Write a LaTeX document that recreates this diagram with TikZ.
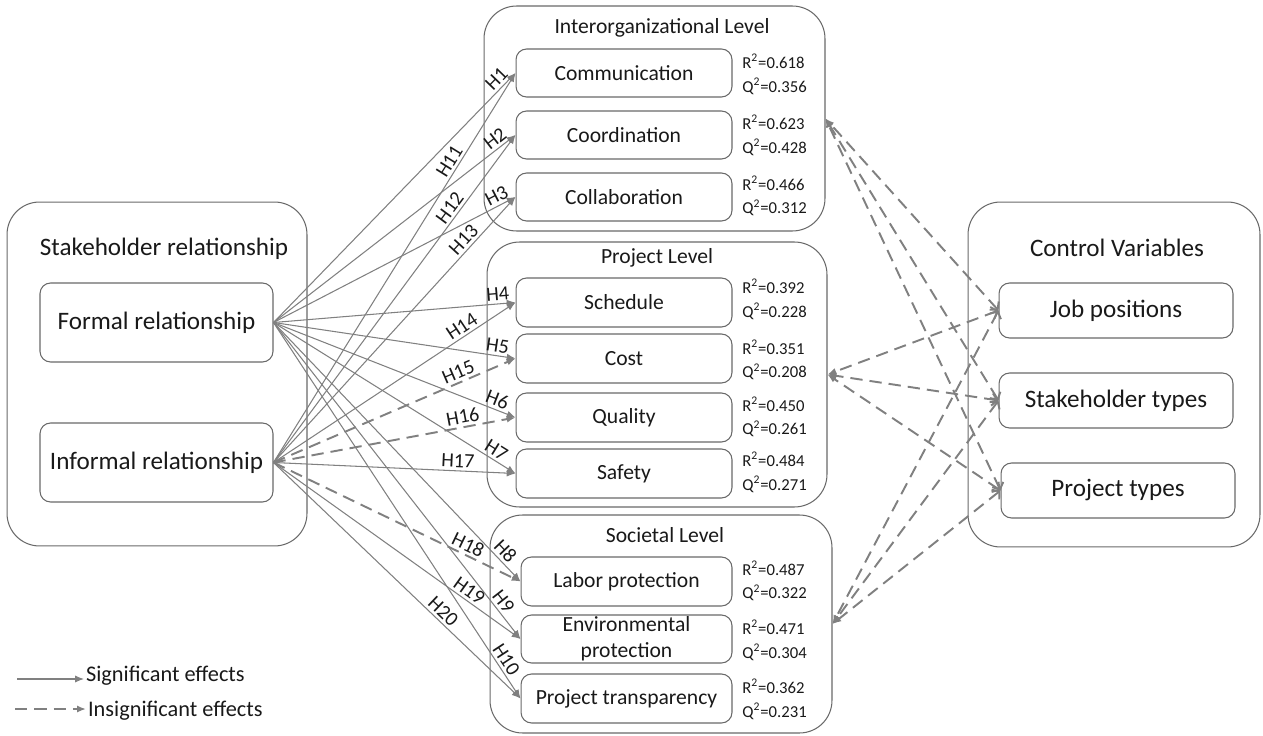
\documentclass[tikz,border=0pt]{standalone}
\usepackage{fontspec}
\setmainfont{Carlito}
\usetikzlibrary{arrows.meta}

\definecolor{linegray}{RGB}{128,128,128}
\definecolor{boxgray}{RGB}{105,105,105}
\definecolor{txtgray}{RGB}{25,25,25}

\tikzset{
  grp/.style={draw=boxgray, line width=0.6pt, rounded corners=0.65cm},
  box/.style={draw=boxgray, line width=0.6pt, rounded corners=6pt, inner ysep=0pt,
    text=txtgray, align=center, font=\fontsize{12.3}{15}\selectfont},
  bigbox/.style={box, font=\fontsize{14.3}{17}\selectfont},
  title/.style={text=txtgray, font=\fontsize{12.3}{15}\selectfont},
  bigtitle/.style={title, font=\fontsize{14.3}{17}\selectfont},
  stat/.style={anchor=west, align=left, inner sep=0pt, text=txtgray,
    font=\fontsize{9.5}{13.6}\selectfont},
  hlab/.style={sloped, above, inner sep=1.5pt, text=txtgray,
    font=\fontsize{11.5}{12}\selectfont},
  sig/.style={draw=linegray, line width=0.6pt, -{Latex[length=5pt,width=4pt]}},
  insig/.style={sig, line width=1.1pt, dash pattern=on 7pt off 4pt},
  ctrl/.style={draw=linegray, line width=1.1pt, dash pattern=on 7pt off 4pt,
    {Straight Barb[length=3pt,width=7pt]}-{Latex[length=5pt,width=4pt]}}
}

\begin{document}
\begin{tikzpicture}[x=0.02cm, y=-0.02cm]
  \useasboundingbox (0,0) rectangle (1263,736);

  % Stakeholder relationship
  \node[grp, minimum width=6cm, minimum height=6.88cm] (stake) at (157,374) {};
  \node[bigtitle] (stakeT) at (164,249) {Stakeholder relationship};
  \node[bigbox, minimum width=4.66cm, minimum height=1.58cm] (formal) at (156.5,322.5) {Formal relationship};
  \node[bigbox, minimum width=4.66cm, minimum height=1.58cm] (informal) at (156.5,462.5) {Informal relationship};

  % Interorganizational level
  \node[grp, minimum width=6.82cm, minimum height=4.5cm] (interorg) at (654.5,118.5) {};
  \node[title] (interorgT) at (662,28) {Interorganizational Level};
  \node[box, minimum width=4.32cm, minimum height=0.96cm] (comm) at (624,73) {Communication};
  \node[box, minimum width=4.32cm, minimum height=0.96cm] (coord) at (624,135) {Coordination};
  \node[box, minimum width=4.32cm, minimum height=0.96cm] (collab) at (624,197) {Collaboration};
  \node[stat] (commS) at (742,74.5) {R\textsuperscript{2}=0.618\\Q\textsuperscript{2}=0.356};
  \node[stat] (coordS) at (742,135.5) {R\textsuperscript{2}=0.623\\Q\textsuperscript{2}=0.428};
  \node[stat] (collabS) at (742,196) {R\textsuperscript{2}=0.466\\Q\textsuperscript{2}=0.312};

  % Project level
  \node[grp, minimum width=6.8cm, minimum height=5.3cm] (projlvl) at (657,374.5) {};
  \node[title] (projlvlT) at (657,258) {Project Level};
  \node[box, minimum width=4.32cm, minimum height=0.98cm] (sched) at (624,302.5) {Schedule};
  \node[box, minimum width=4.32cm, minimum height=0.98cm] (cost) at (624,358.5) {Cost};
  \node[box, minimum width=4.32cm, minimum height=0.98cm] (quality) at (624,417.5) {Quality};
  \node[box, minimum width=4.32cm, minimum height=0.98cm] (safety) at (624,473.5) {Safety};
  \node[stat] (schedS) at (742,299.5) {R\textsuperscript{2}=0.392\\Q\textsuperscript{2}=0.228};
  \node[stat] (costS) at (742,360) {R\textsuperscript{2}=0.351\\Q\textsuperscript{2}=0.208};
  \node[stat] (qualityS) at (742,417) {R\textsuperscript{2}=0.450\\Q\textsuperscript{2}=0.261};
  \node[stat] (safetyS) at (742,472.5) {R\textsuperscript{2}=0.484\\Q\textsuperscript{2}=0.271};

  % Societal level
  \node[grp, minimum width=6.84cm, minimum height=4.36cm] (soclvl) at (661,624) {};
  \node[title] (soclvlT) at (665,535) {Societal Level};
  \node[box, minimum width=4.22cm, minimum height=0.98cm] (labor) at (626.5,581.5) {Labor protection};
  \node[box, minimum width=4.22cm, minimum height=0.96cm] (env) at (626.5,639)
    {\fontsize{12.3}{15.4}\selectfont Environmental\\protection};
  \node[box, minimum width=4.22cm, minimum height=0.98cm] (ptrans) at (626.5,698.5) {Project transparency};
  \node[stat] (laborS) at (742,581) {R\textsuperscript{2}=0.487\\Q\textsuperscript{2}=0.322};
  \node[stat] (envS) at (742,640.5) {R\textsuperscript{2}=0.471\\Q\textsuperscript{2}=0.304};
  \node[stat] (ptransS) at (742,699) {R\textsuperscript{2}=0.362\\Q\textsuperscript{2}=0.231};

  % Control variables
  \node[grp, minimum width=5.84cm, minimum height=6.9cm] (control) at (1114,374.5) {};
  \node[bigtitle] (controlT) at (1117,248) {Control Variables};
  \node[bigbox, minimum width=4.68cm, minimum height=1.1cm] (job) at (1116,310.5) {Job positions};
  \node[bigbox, minimum width=4.68cm, minimum height=1.1cm] (stype) at (1116,400.5) {Stakeholder types};
  \node[bigbox, minimum width=4.68cm, minimum height=1.1cm] (ptype) at (1118,490.5) {Project types};

  % Hypotheses from formal relationship
  \foreach \t/\h/\p in {comm/H1/0.95, coord/H2/0.94, collab/H3/0.94, sched/H4/0.93,
                        cost/H5/0.92, quality/H6/0.91, safety/H7/0.9, labor/H8/0.91,
                        env/H9/0.9, ptrans/H10/0.91}{
    \draw[sig] (formal.east) -- node[hlab, pos=\p] {\h} (\t.west);
  }
  % Hypotheses from informal relationship
  \foreach \t/\h/\p/\s in {comm/H11/0.76/sig, coord/H12/0.76/sig, collab/H13/0.815/sig,
                           sched/H14/0.8/sig, cost/H15/0.78/insig, quality/H16/0.79/insig,
                           safety/H17/0.76/sig, labor/H18/0.77/insig, env/H19/0.77/sig,
                           ptrans/H20/0.66/sig}{
    \draw[\s] (informal.east) -- node[hlab, pos=\p] {\h} (\t.west);
  }

  % Control variables to the levels
  \foreach \c in {job,stype,ptype}{
    \foreach \g in {interorg,projlvl,soclvl}{
      \draw[ctrl] (\c.west) -- (\g.east);
    }
  }

  % Legend
  \node[title, anchor=west, inner sep=1pt, font=\fontsize{12.7}{15}\selectfont] (sigT) at (84,676) {Significant effects};
  \node[title, anchor=west, inner sep=1pt, font=\fontsize{12.7}{15}\selectfont] (insigT) at (86,711) {Insignificant effects};
  \coordinate (sigA) at (17,679);
  \coordinate (insigA) at (15,709);
  \draw[sig] (sigA) -- (sigA -| sigT.west);
  \draw[insig] (insigA) -- (insigA -| insigT.west);
\end{tikzpicture}
\end{document}
